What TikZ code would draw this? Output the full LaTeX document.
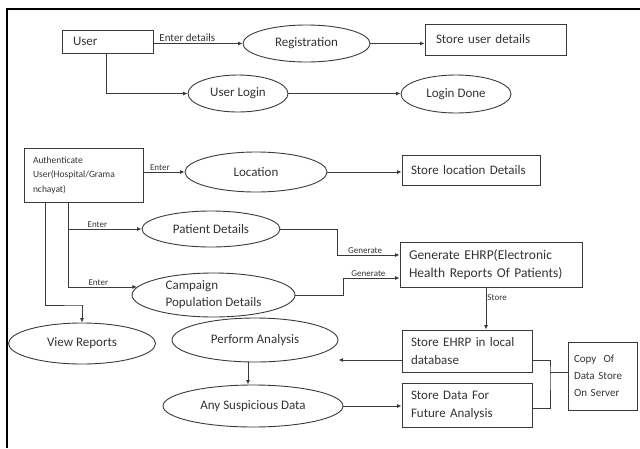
\documentclass[tikz,border=0pt]{standalone}
\usepackage{fontspec}
\setmainfont{Carlito}
\usetikzlibrary{shapes.geometric,arrows.meta,calc}
\definecolor{ln}{HTML}{3A3A3A}
\definecolor{tx}{HTML}{333333}
\tikzset{
  box/.style={draw=ln, line width=0.9pt, rectangle, inner ysep=2pt, align=left, text=tx, font=\fontsize{13}{18}\selectfont},
  ell/.style={draw=ln, line width=0.9pt, ellipse, inner sep=0pt, align=center, text=tx, font=\fontsize{13}{17}\selectfont},
  arr/.style={draw=ln, line width=0.9pt, -{Latex[length=4.5pt,width=4pt]}},
  con/.style={draw=ln, line width=0.9pt},
  lbl/.style={text=tx, inner sep=1pt, font=\fontsize{9}{10}\selectfont},
}
\begin{document}
\begin{tikzpicture}[x=1pt,y=-1pt]
\useasboundingbox (0,0) rectangle (640,448);
\draw[line width=2pt, black] (7,448) -- (7,9) -- (640,9);

% top part
\node[box, minimum height=23pt, text width=69pt, inner xsep=11pt] (user) at (107.5,41.5) {User};
\node[ell, minimum width=127pt, minimum height=37pt] (reg) at (306.5,43.5) {Registration};
\node[box, minimum height=31pt, text width=119pt, inner xsep=11pt] (storeuser) at (495.5,39.5) {Store user details};
\node[ell, minimum width=100pt, minimum height=37pt] (login) at (238,93.5) {User Login};
\node[ell, minimum width=110pt, minimum height=38pt] (done) at (456,94) {Login Done};

\draw[arr] (reg.west -| user.east) -- node[lbl, above, pos=0.38, font=\fontsize{11}{12}\selectfont] {Enter details} (reg.west);
\draw[arr] (reg.east) -- (reg.east -| storeuser.west);
\draw[arr] ([xshift=-1.5pt]user.south) |- (login.west);
\draw[arr] (login.east) -- (login.east -| done.west);

% middle part
\node[box, minimum height=54pt, text width=101pt, inner xsep=9pt, font=\fontsize{9.5}{14.5}\selectfont] (auth) at (83.5,175) {Authenticate\\User(Hospital/Grama\\nchayat)};
\node[ell, minimum width=142pt, minimum height=40pt] (loc) at (256,172) {Location};
\node[box, minimum height=30pt, text width=120pt, inner xsep=9pt] (storeloc) at (471,170) {Store location Details};
\node[ell, minimum width=138pt, minimum height=36pt] (pat) at (211,229) {Patient Details};
\node[ell, minimum width=163pt, minimum height=44pt, align=left] (camp) at (213.5,295) {Campaign\\Population Details};
\node[box, minimum height=45pt, text width=164pt, inner xsep=9pt, font=\fontsize{13.5}{18}\selectfont] (gen) at (491,264.5) {Generate EHRP(Electronic\\Health Reports Of Patients)};

\draw[arr] (loc.west -| auth.east) -- node[lbl, above, pos=0.4] {Enter} (loc.west);
\draw[arr] (loc.east) -- (loc.east -| storeloc.west);
\draw[arr] ([xshift=-15.5pt]auth.south) |- node[lbl, above, pos=0.7] {Enter} (pat.west);
\draw[arr] ([xshift=-15.5pt]auth.south) |- node[lbl, above, pos=0.72] {Enter} (camp.174);
\coordinate (g1) at (337,255);
\coordinate (g2) at (343,278);
\draw[arr] (pat.east) -| (g1) -- node[lbl, above, pos=0.45] {Generate} (g1 -| gen.west);
\draw[arr] (camp.east) -| (g2) -- node[lbl, above, pos=0.45] {Generate} (g2 -| gen.west);

% lower part
\node[ell, minimum width=147pt, minimum height=41pt] (views) at (82,343.5) {View Reports};
\node[box, minimum height=42pt, text width=112pt, inner xsep=9pt] (ehrp) at (467,351) {Store EHRP in local\\database};
\node[ell, minimum width=166pt, minimum height=44pt] (perf) at (255,340) {Perform Analysis};
\node[ell, minimum width=180pt, minimum height=42pt] (sus) at (253,406) {Any Suspicious Data};
\node[box, minimum height=44pt, text width=112pt, inner xsep=9pt] (sdata) at (467,405) {Store Data For\\Future Analysis};
\node[box, minimum height=68pt, text width=57pt, inner xsep=6pt, font=\fontsize{11}{17}\selectfont] (copy) at (602.5,376) {Copy~ Of\\Data Store\\On Server\\[2pt]};

\coordinate (vr) at (83,305);
\draw[arr] ([xshift=-38.5pt]auth.south) |- (vr) -- (vr -| views.north) -- (views.north);
\draw[arr] ([xshift=-5pt]gen.south) -- node[lbl, right, pos=0.25] {Store} ([xshift=-5pt]gen.south |- ehrp.north);
\draw[arr] ([yshift=-9pt]ehrp.west) -- ([yshift=-9pt]ehrp.west -| perf.east);
\draw[arr] ([xshift=-7pt]perf.south) -- ([xshift=-7pt]perf.south |- sus.north);
\draw[arr] (sus.east) -- (sus.east -| sdata.west);
\coordinate (j) at (550,372);
\draw[con] ([yshift=-9pt]ehrp.east) -| (j) |- ([yshift=-3pt]sdata.east);
\draw[con] (j) -- (j -| copy.west);
\end{tikzpicture}
\end{document}
